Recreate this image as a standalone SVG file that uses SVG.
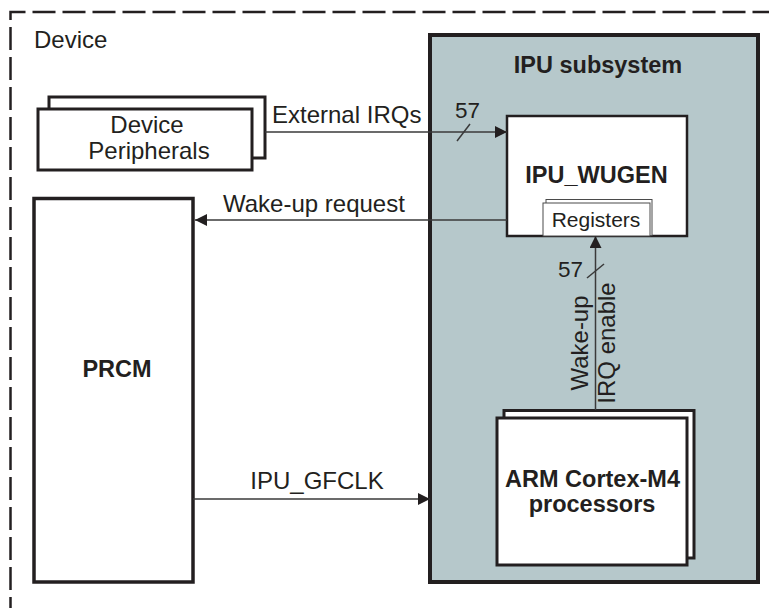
<svg xmlns="http://www.w3.org/2000/svg" width="769" height="608" viewBox="0 0 769 608">
<defs>
<style>
.t{font-family:"Liberation Sans",Arial,sans-serif;font-size:24px;fill:#231f20}
.b{font-weight:bold;font-size:23.5px}
.box{fill:#fff;stroke:#231f20;stroke-width:3}
.ln{fill:none;stroke:#3a3a3a;stroke-width:1.5}
.thin{fill:#fff;stroke:#4a4a4a;stroke-width:1}
</style>
<marker id="ah" viewBox="0 0 12 12" refX="12" refY="6" markerWidth="12" markerHeight="12" markerUnits="userSpaceOnUse" orient="auto">
<path d="M0,0 L12,6 L0,12 Z" fill="#231f20"/>
</marker>
</defs>
<rect width="769" height="608" fill="#fff"/>
<g id="device">
<path d="M10.5,620 V12 H780" fill="none" stroke="#231f20" stroke-width="2.5" stroke-dasharray="23 7"/>
<text class="t" x="34" y="48">Device</text>
</g>
<g id="ipu-subsystem">
<rect x="430" y="35" width="328" height="547" fill="#b6c8cb" stroke="#231f20" stroke-width="4"/>
<text class="t b" x="598" y="73" text-anchor="middle">IPU subsystem</text>
</g>
<g id="device-peripherals">
<rect class="box" x="49" y="97" width="216" height="61"/>
<rect class="box" x="38" y="109" width="214" height="61"/>
<text class="t" x="147" y="133" text-anchor="middle">Device</text>
<text class="t" x="149" y="159" text-anchor="middle">Peripherals</text>
</g>
<g id="prcm">
<rect x="34" y="198.5" width="159" height="383.5" fill="#fff" stroke="#231f20" stroke-width="3.5"/>
<text class="t b" x="117" y="377" text-anchor="middle">PRCM</text>
</g>
<g id="ipu-wugen">
<rect x="507" y="116" width="180" height="120" fill="#fff" stroke="#231f20" stroke-width="2.5"/>
<text class="t b" x="596.5" y="183" text-anchor="middle">IPU_WUGEN</text>
</g>
<g id="registers">
<rect class="thin" x="546" y="199.5" width="106" height="36"/>
<rect class="thin" x="543" y="203" width="107" height="33"/>
<text class="t" style="font-size:21px" x="596" y="227" text-anchor="middle">Registers</text>
</g>
<g id="arm-cortex-m4">
<rect class="box" x="504" y="410.5" width="190" height="147.5" stroke-width="2.5"/>
<rect class="box" x="497" y="418" width="190" height="147" stroke-width="2.5"/>
<text class="t b" x="592.5" y="487" text-anchor="middle">ARM Cortex-M4</text>
<text class="t b" x="592" y="512" text-anchor="middle">processors</text>
</g>
<g id="connectors">
<line class="ln" x1="265" y1="132" x2="507" y2="132" marker-end="url(#ah)"/>
<line class="ln" x1="457" y1="141" x2="470" y2="124"/>
<text class="t" style="font-size:22.5px" x="467.5" y="118" text-anchor="middle">57</text>
<text class="t" x="272" y="123">External IRQs</text>
<line class="ln" x1="507" y1="220" x2="195" y2="220" marker-end="url(#ah)"/>
<text class="t" x="223" y="212">Wake-up request</text>
<line class="ln" x1="193" y1="499" x2="430" y2="499" marker-end="url(#ah)"/>
<text class="t" x="317" y="489" text-anchor="middle">IPU_GFCLK</text>
<line class="ln" x1="595.5" y1="410" x2="595.5" y2="236" marker-end="url(#ah)"/>
<line class="ln" x1="587" y1="278" x2="604" y2="264"/>
<text class="t" style="font-size:22.5px" x="583" y="277" text-anchor="end">57</text>
<text class="t" transform="translate(588,343) rotate(-90)" text-anchor="middle">Wake-up</text>
<text class="t" transform="translate(614.5,343) rotate(-90)" text-anchor="middle">IRQ enable</text>
</g>
</svg>
